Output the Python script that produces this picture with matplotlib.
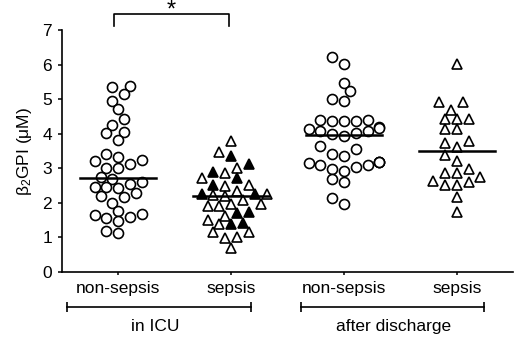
import numpy as np
import matplotlib
matplotlib.use('Agg')
import matplotlib.pyplot as plt
from matplotlib.transforms import blended_transform_factory

plt.rcParams['font.family'] = ['Liberation Sans', 'DejaVu Sans']
plt.rcParams['mathtext.fontset'] = 'custom'
plt.rcParams['mathtext.rm'] = 'Liberation Sans'
plt.rcParams['mathtext.it'] = 'Liberation Sans:italic'

# values (uM)
icu_nonsepsis = [5.39, 5.34, 5.15, 4.95, 4.71, 4.43, 4.25, 4.06, 4.01, 3.82,
                 3.40, 3.34, 3.24, 3.21, 3.12, 3.02, 3.00, 2.74, 2.69, 2.61,
                 2.54, 2.47, 2.45, 2.42, 2.28, 2.21, 2.16, 2.00, 1.76, 1.67,
                 1.65, 1.60, 1.57, 1.46, 1.19, 1.14]
icu_sepsis_open = [3.80, 3.48, 3.02, 2.87, 2.71, 2.52, 2.50, 2.35, 2.26, 2.23,
                   2.20, 2.08, 1.96, 1.96, 1.91, 1.91, 1.63, 1.50, 1.39, 1.17,
                   1.15, 1.00, 0.97, 0.70]
icu_sepsis_filled = [3.36, 3.12, 2.89, 2.71, 2.52, 2.25, 2.25, 1.73, 1.72,
                     1.41, 1.38]
after_nonsepsis = [6.21, 6.02, 5.48, 5.24, 5.01, 4.96, 4.40, 4.40, 4.37, 4.37,
                   4.37, 4.20, 4.16, 4.14, 4.09, 4.09, 4.01, 3.98, 3.93, 3.64,
                   3.55, 3.41, 3.36, 3.17, 3.17, 3.17, 3.14, 3.10, 3.08, 3.03,
                   2.98, 2.93, 2.68, 2.61, 2.15, 1.97]
after_sepsis = [6.02, 4.91, 4.91, 4.69, 4.42, 4.42, 4.42, 4.13, 4.13, 3.79,
                3.72, 3.62, 3.38, 3.21, 2.97, 2.87, 2.85, 2.74, 2.64, 2.61,
                2.52, 2.52, 2.18, 1.74]

tick_labels = ['non-sepsis', 'sepsis', 'non-sepsis', 'sepsis']
group_labels = ['in ICU', 'after discharge']

fig = plt.figure(figsize=(5.2, 3.37), dpi=100)
ax = fig.add_axes([0.119, 0.193, 0.868, 0.718])
ax.set_xlim(0.5, 4.5)
ax.set_ylim(0, 7)


def swarm(values, center, step=5.9, diam=10.0):
    # greedy beeswarm in pixel space, bottom to top
    values = np.asarray(values, dtype=float)
    order = np.argsort(values)
    cx = ax.transData.transform((center, 0))[0]
    placed = []
    xs = np.zeros(len(values))
    for i in order:
        y = ax.transData.transform((center, values[i]))[1]
        for k in [0, -1, 1, -2, 2, -3, 3, -4, 4, -5, 5, -6, 6]:
            x = cx + k * step
            if all(np.hypot(x - px, y - py) >= diam for px, py in placed):
                break
        placed.append((x, y))
        xs[i] = ax.transData.inverted().transform((x, y))[0]
    return xs


circle = dict(marker='o', ms=7.2, mfc='white', mec='black', mew=1.2, ls='none')
tri = dict(marker='^', ms=7.2, mec='black', mew=1.2, ls='none')

x1 = swarm(icu_nonsepsis, 1)
ax.plot(x1, icu_nonsepsis, **circle)

sepsis_all = icu_sepsis_open + icu_sepsis_filled
filled = np.array([False] * len(icu_sepsis_open) + [True] * len(icu_sepsis_filled))
x2 = swarm(sepsis_all, 2)
vals2 = np.array(sepsis_all)
ax.plot(x2[~filled], vals2[~filled], mfc='white', **tri)
ax.plot(x2[filled], vals2[filled], mfc='black', **tri)

x3 = swarm(after_nonsepsis, 3)
ax.plot(x3, after_nonsepsis, **circle)

x4 = swarm(after_sepsis, 4)
ax.plot(x4, after_sepsis, mfc='white', **tri)

# median lines
for pos, vals in zip([1, 2, 3, 4], [icu_nonsepsis, sepsis_all, after_nonsepsis, after_sepsis]):
    m = np.median(vals)
    ax.plot([pos - 0.335, pos + 0.335], [m, m], color='black', lw=1.8, zorder=5)

for s in ['top', 'right']:
    ax.spines[s].set_visible(False)
for s in ['left', 'bottom']:
    ax.spines[s].set_linewidth(1.2)

ax.set_yticks(range(0, 8))
ax.set_xticks([1, 2, 3, 4])
ax.set_xticklabels(tick_labels)
ax.tick_params(axis='y', length=3.2, width=1.1, pad=4, labelsize=12.5)
ax.tick_params(axis='x', length=2.5, width=1.1, pad=4, labelsize=12.5)
ax.set_ylabel('β$_2$GPI (μM)', fontsize=12.5, labelpad=6)

# significance bracket
ax.plot([0.965, 0.965, 1.985, 1.985], [7.11, 7.45, 7.45, 7.11],
        color='black', lw=1.2, clip_on=False)
ax.text(1.47, 7.55, '*', ha='center', va='center', fontsize=17, clip_on=False)

# group brackets under the axis
trans = blended_transform_factory(ax.transData, ax.transAxes)
for (a, b), label, xt in zip([(0.547, 2.18), (2.615, 4.24)], group_labels, [1.33, 3.44]):
    ax.plot([a, b], [-0.143, -0.143], color='black', lw=1.2, marker='|',
            ms=7, mew=1.2, transform=trans, clip_on=False)
    ax.text(xt, -0.225, label, transform=trans, ha='center', va='center',
            fontsize=12.5)

fig.savefig('out.png', dpi=100)
